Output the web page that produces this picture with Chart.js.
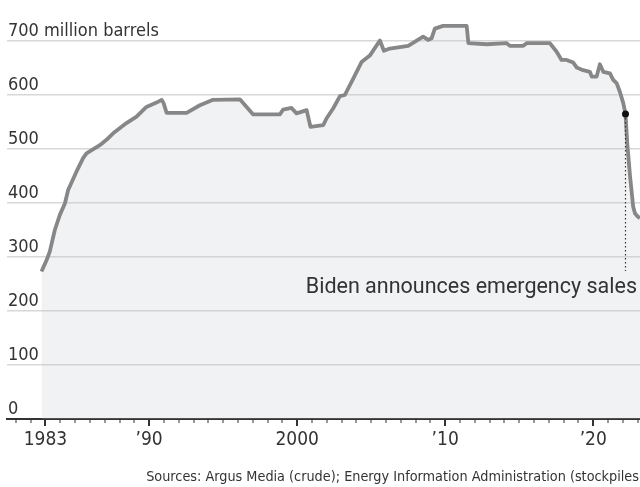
<!DOCTYPE html>
<html>
<head>
<meta charset="utf-8">
<script src="https://cdn.jsdelivr.net/npm/chart.js@4/dist/chart.umd.min.js"></script>
<style>
  body { margin: 0; background: #fff; }
  #wrap { position: relative; width: 640px; height: 487px; overflow: hidden; }
  #source {
    position: absolute; right: -4px; top: 468px;
    font: 14.3px "Liberation Sans Narrow", "DejaVu Sans Condensed", sans-serif;
    color: #333; white-space: nowrap;
  }
</style>
</head>
<body>
<div id="wrap">
  <canvas id="sprChart"></canvas>
  <div id="source">Sources: Argus Media (crude); Energy Information Administration (stockpiles)</div>
</div>
<script>
// Strategic Petroleum Reserve stockpile, million barrels, by decimal year
const years = [
  1982.73, 1983.07, 1983.29, 1983.63, 1983.97, 1984.31, 1984.53, 1985.09,
  1985.54, 1985.77, 1986.67, 1987.12, 1987.57, 1988.47, 1989.15, 1989.82,
  1990.5, 1990.85, 1990.98, 1991.18, 1992.53, 1993.43, 1994.32, 1996.13,
  1997.03, 1998.83, 1999.05, 1999.62, 1999.96, 2000.64, 2000.9, 2001.76,
  2001.99, 2002.43, 2002.89, 2003.22, 2003.78, 2004.35, 2004.91, 2005.59,
  2005.86, 2006.26, 2007.5, 2008.51, 2008.85, 2009.08, 2009.3, 2009.86,
  2011.45, 2011.57, 2012.8, 2014.15, 2014.37, 2015.27, 2015.5, 2017.07,
  2017.53, 2017.86, 2018.2, 2018.65, 2018.88, 2019.32, 2019.78, 2019.9,
  2020.23, 2020.45, 2020.68, 2021.13, 2021.35, 2021.58, 2021.8, 2022.03,
  2022.18, 2022.3, 2022.49, 2022.7, 2022.82, 2023.0, 2023.16
];
const barrels = [
  273, 294, 310, 350, 378, 399, 424, 458,
  483, 492, 507, 517, 529, 548, 560, 578,
  586, 591, 585, 567, 567, 581, 591, 592,
  564, 564, 573, 576, 566, 572, 541, 544,
  557, 575, 598, 600, 630, 661, 673, 701,
  682, 686, 691, 708, 702, 705, 723, 728,
  728, 696, 694, 696, 691, 691, 696, 696,
  680, 665, 665, 660, 651, 646, 643, 634,
  634, 657, 643, 640, 628, 622, 606, 585,
  565, 510, 449, 393, 381, 375, 372
];

const yTicks = [0, 100, 200, 300, 400, 500, 600, 700];
const yLabels = ["0", "100", "200", "300", "400", "500", "600", "700 million barrels"];
const tickYears = [1983, 1990, 2000, 2010, 2020];
const tickLabels = ["1983", "\u201990", "2000", "\u201910", "\u201920"];

const noteYear = 2022.18;
const noteValue = 565;
const noteEnd = 274;
const noteText = "Biden announces emergency sales";

const narrow = '"Liberation Sans Narrow", "DejaVu Sans Condensed", sans-serif';

// value labels above gridlines, yearly tick marks and the annotation
const chartMarks = {
  id: "chartMarks",
  afterDraw(chart) {
    const { ctx, chartArea, scales: { x, y } } = chart;
    ctx.save();

    ctx.font = `18px ${narrow}`;
    ctx.fillStyle = "#333";
    ctx.textAlign = "left";
    ctx.textBaseline = "alphabetic";
    yTicks.forEach((v, i) => {
      ctx.fillText(yLabels[i], 8, y.getPixelForValue(v) - 5);
    });

    for (let yr = 1981; yr <= 2023; yr++) {
      const px = Math.round(x.getPixelForValue(yr));
      const major = tickYears.includes(yr);
      ctx.fillStyle = "#333";
      ctx.fillRect(px - (major ? 1 : 0.5), chartArea.bottom, major ? 2 : 1, major ? 7 : 4);
    }

    const nx = x.getPixelForValue(noteYear);
    const ny = y.getPixelForValue(noteValue);
    ctx.strokeStyle = "#333";
    ctx.lineWidth = 1.2;
    ctx.setLineDash([1.5, 2.5]);
    ctx.beginPath();
    ctx.moveTo(nx, ny);
    ctx.lineTo(nx, y.getPixelForValue(noteEnd));
    ctx.stroke();
    ctx.setLineDash([]);

    ctx.fillStyle = "#111";
    ctx.beginPath();
    ctx.arc(nx, ny, 3.5, 0, Math.PI * 2);
    ctx.fill();

    ctx.font = "21.5px Roboto, sans-serif";
    ctx.fillStyle = "#333";
    ctx.textAlign = "right";
    ctx.fillText(noteText, 637, 293);
    ctx.restore();
  },
};

new Chart(document.getElementById("sprChart"), {
  type: "line",
  data: {
    datasets: [
      {
        data: years.map((yr, i) => ({ x: yr, y: barrels[i] })),
        borderColor: "#878787",
        backgroundColor: "rgba(190, 195, 205, 0.22)",
        borderWidth: 3.8,
        pointRadius: 0,
        tension: 0,
        fill: "origin",
        borderJoinStyle: "round",
      },
    ],
  },
  options: {
    responsive: true,
    maintainAspectRatio: false,
    animation: false,
    layout: { padding: { left: 7, right: 0, top: 19.4, bottom: 0 } },
    plugins: {
      legend: { display: false },
      tooltip: { enabled: false },
    },
    scales: {
      x: {
        type: "linear",
        min: 1980.4,
        max: 2023.16,
        afterBuildTicks(scale) {
          scale.ticks = tickYears.map((v) => ({ value: v }));
        },
        afterFit(scale) {
          scale.height = 68;
        },
        grid: { display: false, drawTicks: false },
        border: { display: true, color: "#333", width: 2 },
        ticks: {
          autoSkip: false,
          maxRotation: 0,
          padding: 10,
          color: "#333",
          font: { family: narrow, size: 19 },
          callback: (v) => tickLabels[tickYears.indexOf(v)],
        },
      },
      y: {
        min: 0,
        max: 740,
        afterBuildTicks(scale) {
          scale.ticks = yTicks.map((v) => ({ value: v }));
        },
        afterFit(scale) {
          scale.width = 0;
        },
        grid: {
          color: (c) => (c.tick && c.tick.value === 0 ? "rgba(0,0,0,0)" : "#d8d8d8"),
          lineWidth: 1.5,
          drawTicks: false,
        },
        border: { display: false },
        ticks: { display: false },
      },
    },
  },
  plugins: [chartMarks],
});
</script>
</body>
</html>
